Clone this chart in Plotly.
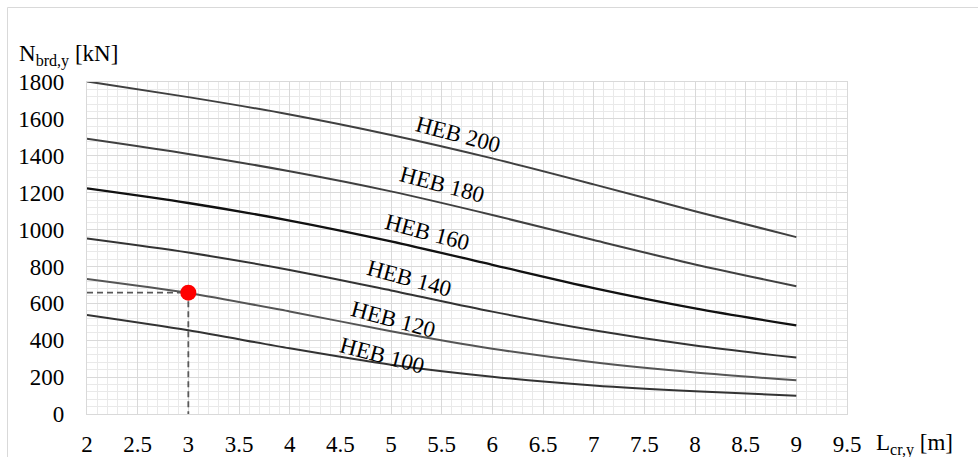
import plotly.graph_objects as go

# Buckling length L_cr,y [m]
lengths = [2, 3, 4, 5, 6, 7, 8, 9]

# N_b,Rd,y [kN] for each section
heb100 = [537, 454, 356, 267, 202, 155, 123, 99]
heb120 = [732, 656, 556, 449, 354, 280, 225, 183]
heb140 = [951, 875, 781, 670, 555, 454, 371, 306]
heb160 = [1223, 1144, 1049, 936, 809, 683, 573, 480]
heb180 = [1492, 1410, 1316, 1207, 1079, 943, 811, 693]
heb200 = [1803, 1718, 1624, 1513, 1386, 1245, 1099, 959]

series_names = ["HEB 200", "HEB 180", "HEB 160", "HEB 140", "HEB 120", "HEB 100"]
series_values = [heb200, heb180, heb160, heb140, heb120, heb100]

# Example point
example_L = 3
example_N = 658

# Label anchor positions (x in m, y in kN)
label_x = [5.66, 5.50, 5.36, 5.18, 5.02, 4.91]
label_y = [1515, 1242, 982, 732, 510, 315]

x_ticks = [2, 2.5, 3, 3.5, 4, 4.5, 5, 5.5, 6, 6.5, 7, 7.5, 8, 8.5, 9, 9.5]
y_ticks = [0, 200, 400, 600, 800, 1000, 1200, 1400, 1600, 1800]

line_colors = ["#404040", "#404040", "#111111", "#333333", "#555555", "#333333"]
line_widths = [2, 2, 2.3, 2, 2, 2]

FONT = "Liberation Serif, Times New Roman, serif"
FS = 23

L, R, T, B = 87, 131, 82, 43
W, H = 978, 457
PW, PH = W - L - R, H - T - B


def px_x(p):
    return (p - L) / PW


def px_y(p):
    return (H - B - p) / PH


fig = go.Figure()

for name, vals, c, w in zip(series_names, series_values, line_colors, line_widths):
    fig.add_trace(go.Scatter(
        x=lengths, y=vals, mode="lines", name=name,
        line=dict(color=c, width=w, shape="spline", smoothing=0.8),
        showlegend=False, hoverinfo="x+y+name"))

# dashed guide lines
fig.add_trace(go.Scatter(
    x=[lengths[0], example_L, example_L], y=[example_N, example_N, 0],
    mode="lines", line=dict(color="#5a5a5a", width=1.8, dash="6px,4px"),
    showlegend=False, hoverinfo="skip"))

fig.add_trace(go.Scatter(
    x=[example_L], y=[example_N], mode="markers",
    marker=dict(color="#ff0000", size=16, line=dict(width=0)),
    showlegend=False))

for name, lx, ly in zip(series_names, label_x, label_y):
    fig.add_annotation(x=lx, y=ly, text=name, showarrow=False,
                       textangle=15, font=dict(family=FONT, size=FS, color="#000000"),
                       xanchor="center", yanchor="middle")

# axis titles
fig.add_annotation(xref="paper", yref="paper", x=px_x(17), y=px_y(55),
                   text="N<sub>brd,y</sub> [kN]", showarrow=False,
                   xanchor="left", yanchor="middle",
                   font=dict(family=FONT, size=FS, color="#000000"))
fig.add_annotation(xref="paper", yref="paper", x=px_x(874), y=px_y(444),
                   text="L<sub>cr,y</sub> [m]", showarrow=False,
                   xanchor="left", yanchor="middle",
                   font=dict(family=FONT, size=FS, color="#000000"))

# outer chart border (top & left visible)
fig.add_shape(type="rect", xref="paper", yref="paper",
              x0=px_x(7.5), x1=px_x(995),
              y0=px_y(475), y1=px_y(7.5),
              line=dict(color="#d9d9d9", width=1), fillcolor="rgba(0,0,0,0)", layer="below")

fig.update_layout(
    width=W, height=H,
    margin=dict(l=L, r=R, t=T, b=B, autoexpand=False),
    paper_bgcolor="#ffffff", plot_bgcolor="#ffffff",
    font=dict(family=FONT, size=FS, color="#000000"),
    xaxis=dict(range=[2, 9.5], tickvals=x_ticks, ticktext=[f"{v:g}" for v in x_ticks],
               automargin=False,
               showgrid=True, gridcolor="#d9d9d9", gridwidth=1.3,
               minor=dict(dtick=0.1, tick0=2, showgrid=True, gridcolor="#e9e9e9", gridwidth=1.3),
               zeroline=False, showline=True, linecolor="#d9d9d9", linewidth=1.3, mirror=True,
               ticks="", ticklabelstandoff=9, tickfont=dict(family=FONT, size=FS)),
    yaxis=dict(range=[0, 1800], tickvals=y_ticks, automargin=False,
               showgrid=True, gridcolor="#d9d9d9", gridwidth=1.3,
               minor=dict(dtick=40, tick0=0, showgrid=True, gridcolor="#e9e9e9", gridwidth=1.3),
               zeroline=False, showline=True, linecolor="#d9d9d9", linewidth=1.3, mirror=True,
               ticks="", ticklabelstandoff=17, tickfont=dict(family=FONT, size=FS)),
)

fig.write_html("out.html", config={"displayModeBar": False},
               post_script="document.body.style.margin='0px';document.body.style.overflow='hidden';")
